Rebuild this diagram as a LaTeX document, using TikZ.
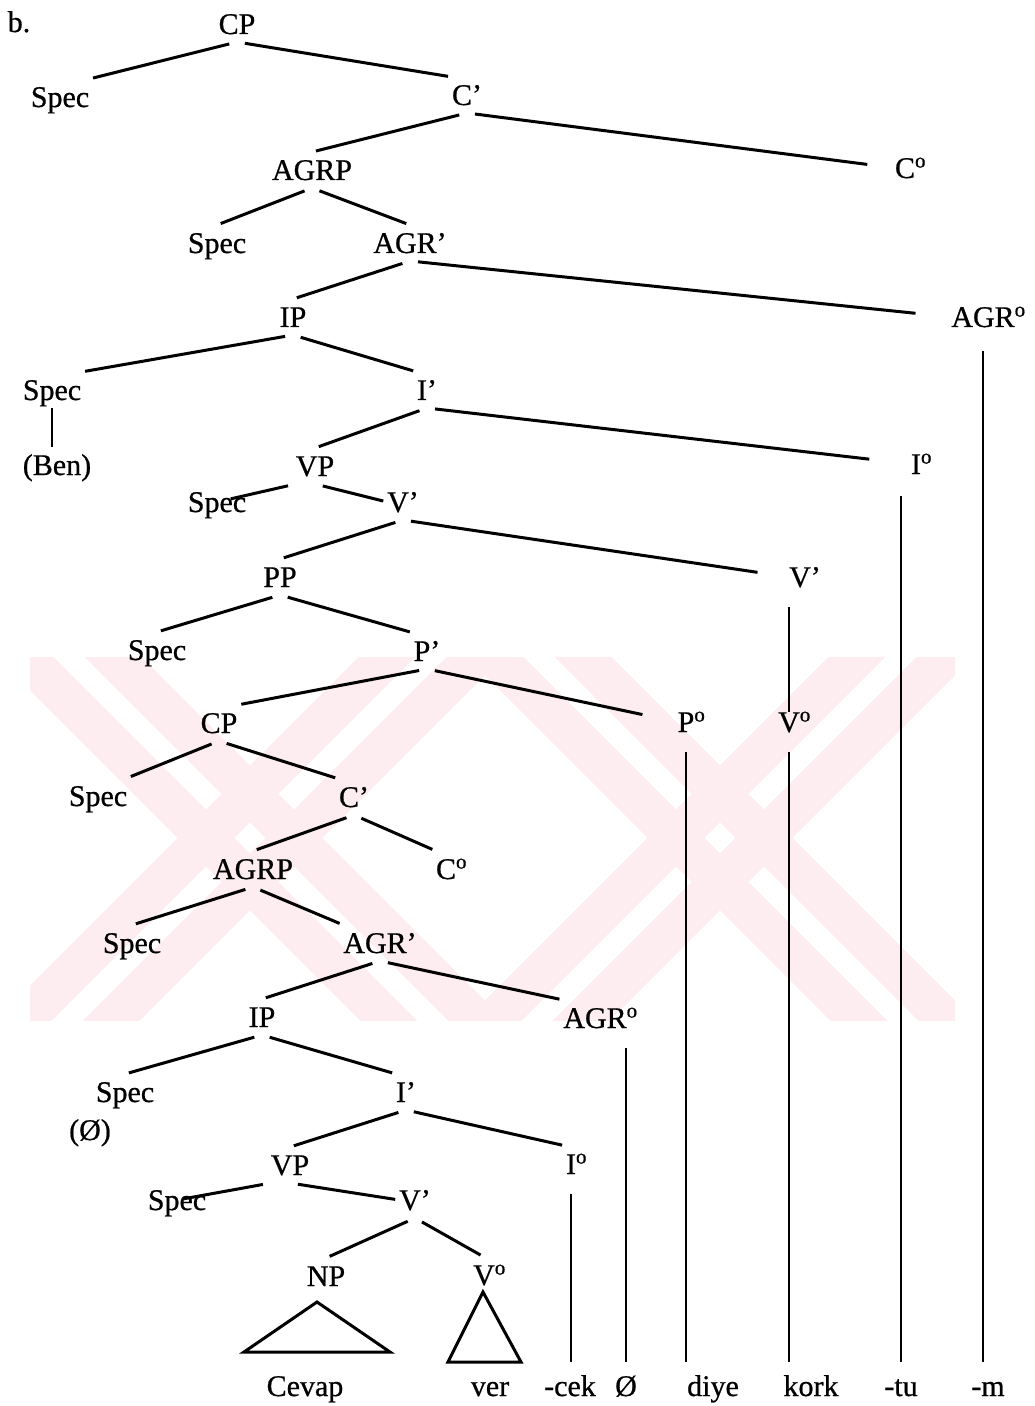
\documentclass[tikz,border=0pt]{standalone}
\usepackage{fontspec}
\setmainfont{Liberation Serif}
\newfontfamily\treefont{Liberation Serif}[FakeBold=0.7]
\definecolor{wmpink}{RGB}{253,236,240}
\tikzset{cat/.style = {inner sep=0pt, outer xsep=0pt, outer ysep=4pt,
                       text height=10pt, text depth=0pt},
         branch/.style = {line width=1.5pt, shorten <=4pt, shorten >=2pt},
         stem/.style = {line width=1pt, shorten <=6pt, shorten >=3pt},
         wmark/.style = {wmpink, line width=20pt}}
\newcommand{\hd}[1]{#1\rlap{\textsuperscript{o}}}

\begin{document}
\begin{tikzpicture}[x=0.5pt, y=-0.5pt, font=\treefont\fontsize{15}{18}\selectfont]
    \useasboundingbox (0,0) rectangle (1034,1406);
    % pale stripes behind the lower half
    \begin{scope}
      \clip (30,657) rectangle (955,1020);
      \foreach \cx in {250,720} {
        \foreach \s in {-1,1} {
          \draw [wmark] (\cx+22*\s-240, 838-22*\s-240) -- ++(480,480);
          \draw [wmark] (\cx+22*\s-240, 838+22*\s+240) -- ++(480,-480);
        }
      }
    \end{scope}
    \node [cat] (lbl) at (19,22) {b.};
    % upper clause
    \node [cat] (cp1) at (237,24) {CP};
    \node [cat] (specA) at (60,97) {Spec};
    \node [cat] (cbar1) at (467,95) {C’};
    \node [cat] (co1) at (905,168) {\hd{C}};
    \node [cat] (agrp1) at (312,170) {AGRP};
    \node [cat] (specB) at (217,243) {Spec};
    \node [cat] (agrbar1) at (410,243) {AGR’};
    \node [cat] (agro1) at (983,317) {\hd{AGR}};
    \node [cat] (ip1) at (293,317) {IP};
    \node [cat] (specC) at (52,390) {Spec};
    \node [cat] (ibar1) at (427,390) {I’};
    \node [cat] (ben) at (57,465) {(Ben)};
    \node [cat] (io1) at (916,464) {\hd{I}};
    \node [cat] (vp1) at (315,466) {VP};
    \node [cat] (specD) at (217,502) {Spec};
    \node [cat] (vbar1) at (403,502) {V’};
    \node [cat] (pp) at (280,577) {PP};
    \node [cat] (vbar2) at (805,577) {V’};
    \node [cat] (specE) at (157,650) {Spec};
    \node [cat] (pbar) at (427,651) {P’};
    \node [cat] (po) at (686,722) {\hd{P}};
    \node [cat] (vo1) at (789,722) {\hd{V}};
    % embedded clause
    \node [cat] (cp2) at (219,723) {CP};
    \node [cat] (specF) at (98,796) {Spec};
    \node [cat] (cbar2) at (354,797) {C’};
    \node [cat] (agrp2) at (253,869) {AGRP};
    \node [cat] (co2) at (446,869) {\hd{C}};
    \node [cat] (specG) at (132,943) {Spec};
    \node [cat] (agrbar2) at (380,943) {AGR’};
    \node [cat] (ip2) at (262,1017) {IP};
    \node [cat] (agro2) at (595,1018) {\hd{AGR}};
    \node [cat] (specH) at (125,1092) {Spec};
    \node [cat] (ibar2) at (406,1092) {I’};
    \node [cat] (null) at (90,1130) {(Ø)};
    \node [cat] (vp2) at (290,1165) {VP};
    \node [cat] (io2) at (571,1164) {\hd{I}};
    \node [cat] (specI) at (177,1200) {Spec};
    \node [cat] (vbar3) at (415,1200) {V’};
    \node [cat] (np) at (326,1276) {NP};
    \node [cat] (vo2) at (484,1275) {\hd{V}};
    % the string
    \node [cat] (cevap) at (305,1386) {Cevap};
    \node [cat] (ver) at (490,1386) {ver};
    \node [cat] (cek) at (570,1386) {-cek};
    \node [cat] (oslash) at (626,1386) {Ø};
    \node [cat] (diye) at (713,1386) {diye};
    \node [cat] (kork) at (811,1386) {kork};
    \node [cat] (tu) at (901,1386) {-tu};
    \node [cat] (m) at (988,1386) {-m};

    \draw [branch] (cp1.south) -- (specA.north east);
    \draw [branch] (cp1.south) -- (cbar1.north west);
    \draw [branch] (cbar1.south) -- (agrp1.north);
    \draw [branch, shorten >=14pt] (cbar1.south) -- (co1.west);
    \draw [branch] (agrp1.south) -- (specB.north);
    \draw [branch] (agrp1.south) -- (agrbar1.north);
    \draw [branch] (agrbar1.south) -- (ip1.north);
    \draw [branch, shorten >=18pt] (agrbar1.south) -- (agro1.west);
    \draw [branch] (ip1.south) -- (specC.north east);
    \draw [branch] (ip1.south) -- (ibar1.north west);
    \draw [branch] (ibar1.south) -- (vp1.north);
    \draw [branch, shorten >=21pt] (ibar1.south) -- (io1.west);
    \draw [branch, shorten >=7pt] (vp1.south west) -- (specD.center);
    \draw [branch] (vp1.south) -- (vbar1.west);
    \draw [branch] (vbar1.south) -- (pp.north);
    \draw [branch, shorten >=16pt] (vbar1.south) -- (vbar2.west);
    \draw [branch] (pp.south) -- (specE.north);
    \draw [branch] (pp.south) -- (pbar.north west);
    \draw [branch] (pbar.south) -- (cp2.north east);
    \draw [branch, shorten >=18pt] (pbar.south) -- (po.west);
    \draw [branch] (cp2.south) -- (specF.north east);
    \draw [branch] (cp2.south) -- (cbar2.north west);
    \draw [branch] (cbar2.south) -- (agrp2.north);
    \draw [branch] (cbar2.south) -- (co2.north west);
    \draw [branch] (agrp2.south) -- (specG.north);
    \draw [branch] (agrp2.south) -- (agrbar2.north west);
    \draw [branch] (agrbar2.south) -- (ip2.north);
    \draw [branch] (agrbar2.south) -- (agro2.north west);
    \draw [branch] (ip2.south) -- (specH.north);
    \draw [branch] (ip2.south) -- (ibar2.north west);
    \draw [branch] (ibar2.south) -- (vp2.north);
    \draw [branch] (ibar2.south) -- (io2.north west);
    \draw [branch, shorten >=3pt] (vp2.south west) -- (specI.center);
    \draw [branch] (vp2.south) -- (vbar3.west);
    \draw [branch] (vbar3.south) -- (np.north);
    \draw [branch] (vbar3.south) -- (vo2.north);

    % head lines down to the morphemes
    \draw [stem, shorten <=0pt, shorten >=0pt] (specC.south) -- (specC.south |- ben.north);
    \draw [stem, shorten >=-4pt] (vo1.north |- vbar2.south) -- (vo1.north);
    \draw [stem] (po.south) -- (po.south |- diye.north);
    \draw [stem] (vo1.south) -- (vo1.south |- kork.north);
    \draw [stem, shorten <=7pt] (tu.north |- io1.south) -- (tu.north);
    \draw [stem, shorten <=8pt] (agro1.south) -- (agro1.south |- m.north);
    \draw [stem] (oslash.north |- agro2.south) -- (oslash.north);
    \draw [stem] (io2.south) -- (io2.south |- cek.north);

    % triangles over the lexical items
    \draw [line width=1.5pt] (317,1302) -- (244,1352) -- (390,1352) -- cycle;
    \draw [line width=1.5pt] (483,1292) -- (448,1362) -- (521,1362) -- cycle;
\end{tikzpicture}
\end{document}
